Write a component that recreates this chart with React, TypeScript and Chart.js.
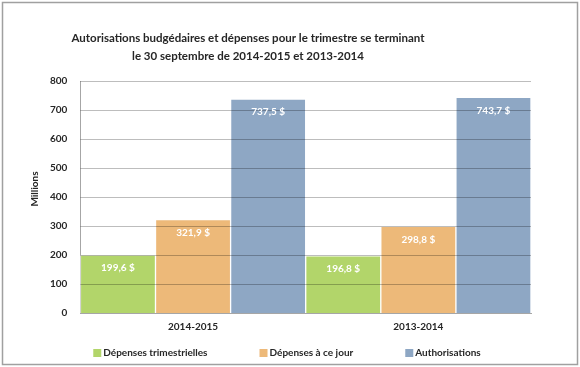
import React, { useEffect, useRef } from "react";
import { Chart, registerables } from "chart.js";

Chart.register(...registerables);

const categories = ["2014-2015", "2013-2014"];
const seriesNames = ["Dépenses trimestrielles", "Dépenses à ce jour", "Authorisations"];
const depensesTrimestrielles = [199.6, 196.8];
const depensesACeJour = [321.9, 298.8];
const authorisations = [737.5, 743.7];
const titleLines = [
  "Autorisations budgédaires et dépenses pour le trimestre se terminant",
  "le 30 septembre de 2014-2015 et 2013-2014",
];
const yTitle = "Millions";
const yMax = 800;
const yStep = 100;

const colors = ["#B2D56A", "#EDB979", "#8EA7C4"];
const FONT = "Lato, 'Open Sans', sans-serif";
const TEXT = "#262626";

const framePlugin = {
  id: "frame",
  beforeDraw(chart: any) {
    const { ctx, width, height } = chart;
    ctx.save();
    ctx.fillStyle = "#ffffff";
    ctx.fillRect(0, 0, width, height);
    ctx.strokeStyle = "#a0a0a0";
    ctx.lineWidth = 1.5;
    ctx.strokeRect(2.5, 2.5, width - 5, height - 5);
    ctx.restore();
  },
  afterDraw(chart: any) {
    const { ctx, chartArea } = chart;
    ctx.save();
    ctx.fillStyle = TEXT;
    ctx.font = `bold 11.5px ${FONT}`;
    ctx.textAlign = "center";
    ctx.textBaseline = "middle";
    ctx.fillText(titleLines[0], 248, 38);
    ctx.fillText(titleLines[1], 248, 56);

    // y-axis title
    ctx.save();
    ctx.font = `bold 10px ${FONT}`;
    ctx.translate(35, (chartArea.top + chartArea.bottom) / 2 - 8);
    ctx.rotate(-Math.PI / 2);
    ctx.fillText(yTitle, 0, 0);
    ctx.restore();

    // legend
    ctx.font = `bold 10px ${FONT}`;
    ctx.textAlign = "left";
    const gap = 52;
    const box = 8;
    const widths = seriesNames.map((n) => box + 2 + ctx.measureText(n).width);
    const total = widths.reduce((a, b) => a + b, 0) + gap * (seriesNames.length - 1);
    let x = 287 - total / 2;
    const ly = 353;
    seriesNames.forEach((n, i) => {
      ctx.fillStyle = colors[i];
      ctx.fillRect(x, ly - box / 2, box, box);
      ctx.fillStyle = TEXT;
      ctx.fillText(n, x + box + 2, ly);
      x += widths[i] + gap;
    });
    ctx.restore();
  },
};

const overlayPlugin = {
  id: "overlay",
  afterDatasetsDraw(chart: any) {
    const { ctx, chartArea } = chart;
    const y = chart.scales.y;
    ctx.save();
    ctx.strokeStyle = "rgba(0,0,0,0.26)";
    ctx.lineWidth = 1;
    y.ticks.forEach((t: any) => {
      if (t.value === 0) return;
      const py = Math.round(y.getPixelForValue(t.value)) + 0.5;
      ctx.beginPath();
      ctx.moveTo(chartArea.left, py);
      ctx.lineTo(chartArea.right, py);
      ctx.stroke();
    });
    ctx.fillStyle = "#ffffff";
    ctx.font = `bold 10px ${FONT}`;
    ctx.textAlign = "center";
    ctx.textBaseline = "middle";
    chart.data.datasets.forEach((ds: any, i: number) => {
      const meta = chart.getDatasetMeta(i);
      meta.data.forEach((bar: any, j: number) => {
        const v = ds.data[j];
        const txt = v.toFixed(1).replace(".", ",") + " $";
        ctx.fillText(txt, bar.x, bar.y + 13);
      });
    });
    ctx.restore();
  },
};

export default function App() {
  const ref = useRef<HTMLCanvasElement | null>(null);
  useEffect(() => {
    document.body.style.margin = "0";
    if (!ref.current) return;
    const chart = new Chart(ref.current, {
      type: "bar",
      data: {
        labels: categories,
        datasets: [
          { label: seriesNames[0], data: depensesTrimestrielles, backgroundColor: colors[0] },
          { label: seriesNames[1], data: depensesACeJour, backgroundColor: colors[1] },
          { label: seriesNames[2], data: authorisations, backgroundColor: colors[2] },
        ].map((d) => ({
          ...d,
          borderColor: "#ffffff",
          borderWidth: 1,
          barPercentage: 1,
          categoryPercentage: 1,
        })),
      },
      options: {
        animation: false,
        responsive: true,
        maintainAspectRatio: false,
        layout: { padding: { top: 81, left: 37, right: 49, bottom: 26 } },
        plugins: {
          title: { display: false },
          tooltip: { enabled: false },
          legend: { display: false },
        },
        scales: {
          x: {
            grid: { display: false, drawTicks: false },
            border: { display: true, color: "#a6a6a6" },
            ticks: { color: TEXT, font: { family: FONT, size: 10, weight: "bold" }, padding: 8 },
          },
          y: {
            min: 0,
            max: yMax,
            grid: { display: false, drawTicks: false },
            border: { display: true, color: "#a6a6a6" },
            ticks: {
              stepSize: yStep,
              autoSkip: false,
              color: TEXT,
              padding: 13,
              font: { family: FONT, size: 10, weight: "bold" },
            },
            title: { display: false },
          },
        },
      },
      plugins: [framePlugin, overlayPlugin],
    });
    return () => chart.destroy();
  }, []);
  return (
    <div style={{ width: 580, height: 367, position: "relative" }}>
      <canvas ref={ref} />
    </div>
  );
}
